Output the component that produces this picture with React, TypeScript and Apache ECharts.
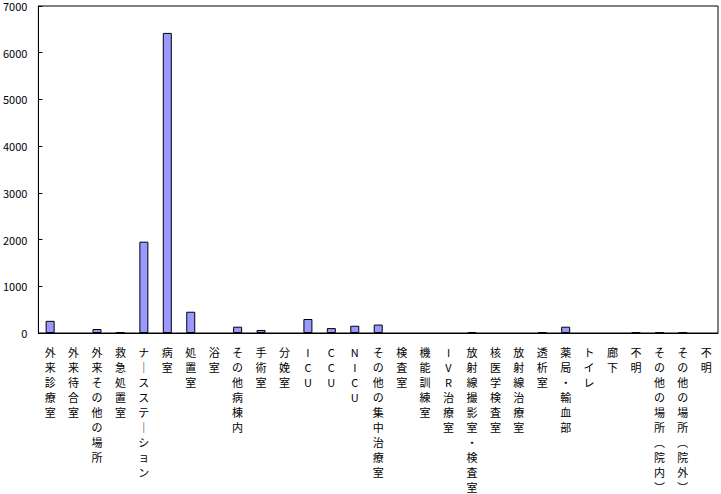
import React, { useEffect, useRef } from "react";
import * as echarts from "echarts";

const categories = [
  "外来診療室",
  "外来待合室",
  "外来その他の場所",
  "救急処置室",
  "ナースステーション",
  "病室",
  "処置室",
  "浴室",
  "その他病棟内",
  "手術室",
  "分娩室",
  "ICU",
  "CCU",
  "NICU",
  "その他の集中治療室",
  "検査室",
  "機能訓練室",
  "IVR治療室",
  "放射線撮影室・検査室",
  "核医学検査室",
  "放射線治療室",
  "透析室",
  "薬局・輸血部",
  "トイレ",
  "廊下",
  "不明",
  "その他の場所（院内）",
  "その他の場所（院外）",
  "不明 ",
];

const values = [
  260, 0, 85, 20, 1955, 6424, 455, 0, 135, 65, 0, 300, 105, 155, 180, 0, 0, 0,
  20, 0, 0, 15, 135, 0, 0, 10, 10, 10, 0,
];

const yTicks = { min: 0, max: 7000, interval: 1000 };

function toVertical(s: string): string {
  return s
    .trim()
    .replace(/（/g, "︵")
    .replace(/）/g, "︶")
    .replace(/ー/g, "｜")
    .split("")
    .join("\n");
}

export default function App() {
  const ref = useRef<HTMLDivElement>(null);
  useEffect(() => {
    if (!ref.current) return;
    const chart = echarts.init(ref.current, undefined, { renderer: "svg" });
    chart.setOption({
      animation: false,
      backgroundColor: "#ffffff",
      grid: {
        left: 37,
        right: 3,
        top: 6,
        bottom: 161,
        show: true,
        borderColor: "#000000",
        borderWidth: 1,
        containLabel: false,
      },
      xAxis: {
        type: "category",
        data: categories,
        boundaryGap: true,
        axisLine: { lineStyle: { color: "#000000", width: 1 } },
        axisTick: {
          inside: true,
          length: 4,
          interval: 0,
          lineStyle: { color: "#000000" },
        },
        axisLabel: {
          interval: 0,
          margin: 11,
          color: "#000000",
          fontSize: 11,
          lineHeight: 15,
          fontFamily: "Noto Sans CJK JP",
          verticalAlign: "top",
          formatter: (v: string) => toVertical(v),
        },
        splitLine: { show: false },
      },
      yAxis: {
        type: "value",
        min: yTicks.min,
        max: yTicks.max,
        interval: yTicks.interval,
        axisLine: { show: true, lineStyle: { color: "#000000", width: 1 } },
        axisTick: {
          show: true,
          inside: true,
          length: 4,
          lineStyle: { color: "#000000" },
        },
        axisLabel: {
          color: "#000000",
          fontSize: 11,
          lineHeight: 11,
          margin: 11,
          fontFamily: "Noto Sans CJK JP",
          formatter: (v: number) => String(v),
        },
        splitLine: { show: false },
      },
      series: [
        {
          type: "bar",
          data: values.map((v) =>
            v === 0 ? { value: v, itemStyle: { borderWidth: 0 } } : v
          ),
          barWidth: 9,
          itemStyle: {
            color: "#9999FF",
            borderColor: "#000000",
            borderWidth: 1,
          },
        },
      ],
    });
    return () => chart.dispose();
  }, []);
  return (
    <div
      ref={ref}
      style={{ position: "fixed", left: 0, top: 0, width: 721, height: 494 }}
    />
  );
}
